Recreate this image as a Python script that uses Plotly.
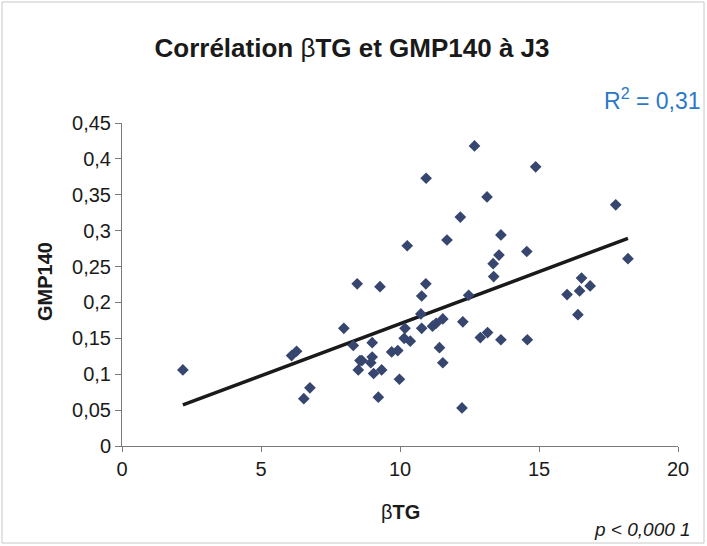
import plotly.graph_objects as go

# --- data ---
btg = [2.19, 6.10, 6.28, 6.76, 6.54, 7.98, 8.32, 8.46, 8.56, 8.63,
       8.50, 9.00, 9.00, 8.95, 9.05, 9.34, 9.22, 9.28, 9.70, 9.92,
       9.98, 10.18, 10.15, 10.37, 10.26, 10.75, 10.78, 10.78, 10.93, 10.94,
       11.17, 11.30, 11.54, 11.42, 11.54, 11.69, 12.17, 12.26, 12.23, 12.47,
       12.68, 12.89, 13.15, 13.13, 13.37, 13.35, 13.56, 13.63, 13.63, 14.56,
       14.58, 14.88, 16.01, 16.46, 16.53, 16.40, 16.84, 17.76, 18.20]
gmp140 = [0.106, 0.126, 0.132, 0.081, 0.066, 0.164, 0.140, 0.226, 0.119, 0.119,
          0.106, 0.144, 0.124, 0.116, 0.101, 0.106, 0.068, 0.222, 0.131, 0.133,
          0.093, 0.164, 0.150, 0.146, 0.279, 0.184, 0.164, 0.209, 0.226, 0.373,
          0.167, 0.171, 0.177, 0.137, 0.116, 0.287, 0.319, 0.173, 0.053, 0.210,
          0.418, 0.151, 0.158, 0.347, 0.236, 0.254, 0.266, 0.294, 0.148, 0.271,
          0.148, 0.389, 0.211, 0.216, 0.234, 0.183, 0.223, 0.336, 0.261]

trend_slope = 0.0145
trend_intercept = 0.0254

x_tick_vals = [0, 5, 10, 15, 20]
x_tick_labels = ["0", "5", "10", "15", "20"]
y_tick_vals = [0, 0.05, 0.1, 0.15, 0.2, 0.25, 0.3, 0.35, 0.4, 0.45]
y_tick_labels = ["0", "0,05", "0,1", "0,15", "0,2", "0,25", "0,3", "0,35", "0,4", "0,45"]

title_text = "<b>Corrélation </b>β<b>TG et GMP140 à J3</b>"
x_title = "β<b>TG</b>"
y_title = "<b>GMP140</b>"
r2_text = "R<sup>2</sup> = 0,31"
p_text = "<i>p < 0,000 1</i>"

FONT = "Arial, 'Liberation Sans', sans-serif"
W, H = 707, 546
ML, MR, MT, MB = 122, 29, 123, 100
PW, PH = W - ML - MR, H - MT - MB


def px_x(px):
    return (px - ML) / PW


def px_y(py):
    return (H - MB - py) / PH


x_min, x_max = min(btg), max(btg)
trend_x = [x_min, x_max]
trend_y = [trend_intercept + trend_slope * v for v in trend_x]

fig = go.Figure()
fig.add_trace(go.Scatter(
    x=trend_x, y=trend_y, mode="lines",
    line=dict(color="#1a1a1a", width=3.5),
    hoverinfo="skip", showlegend=False))
fig.add_trace(go.Scatter(
    x=btg, y=gmp140, mode="markers",
    marker=dict(symbol="diamond", size=9, color="#36466f",
                line=dict(width=0)),
    showlegend=False))

fig.update_layout(
    width=W, height=H,
    margin=dict(l=ML, r=MR, t=MT, b=MB),
    paper_bgcolor="white", plot_bgcolor="white",
    font=dict(family=FONT, color="#1a1a1a"),
    title=dict(text=title_text, x=(352) / W, xanchor="center", y=1 - 48 / H, yanchor="middle",
               font=dict(size=26, family=FONT, color="#1a1a1a")),
    showlegend=False,
)
fig.update_xaxes(
    range=[0, 20], tickvals=x_tick_vals, ticktext=x_tick_labels,
    showgrid=False, zeroline=False, showline=True, linecolor="#7a7a7a", linewidth=1,
    ticks="outside", ticklen=5, tickcolor="#7a7a7a",
    tickfont=dict(size=20, family=FONT, color="#1a1a1a"),
)
fig.update_yaxes(
    range=[0, 0.45], tickvals=y_tick_vals, ticktext=y_tick_labels,
    showgrid=False, zeroline=False, showline=True, linecolor="#7a7a7a", linewidth=1,
    ticks="outside", ticklen=6, tickcolor="#7a7a7a",
    tickfont=dict(size=20, family=FONT, color="#1a1a1a"),
)
fig.add_annotation(
    text=y_title, xref="paper", yref="paper", x=px_x(45), y=px_y(282),
    xanchor="center", yanchor="middle", textangle=-90, showarrow=False,
    font=dict(size=20, family=FONT, color="#1a1a1a"))
fig.add_annotation(
    text=x_title, xref="paper", yref="paper", x=px_x(400), y=px_y(512),
    xanchor="center", yanchor="middle", showarrow=False,
    font=dict(size=20, family=FONT, color="#1a1a1a"))
fig.add_annotation(
    text=r2_text, xref="paper", yref="paper", x=px_x(703), y=px_y(99),
    xanchor="right", yanchor="middle", showarrow=False,
    font=dict(size=23, family=FONT, color="#2a78c6"))
fig.add_annotation(
    text=p_text, xref="paper", yref="paper", x=px_x(693), y=px_y(529),
    xanchor="right", yanchor="middle", showarrow=False,
    font=dict(size=19, family=FONT, color="#1a1a1a"))
fig.add_shape(type="rect", xref="paper", yref="paper",
              x0=px_x(2), x1=px_x(704), y0=px_y(543), y1=px_y(2),
              line=dict(color="#c8c8c8", width=1))

fig.write_html("out.html", config={"displayModeBar": False})

# remove the default page margin so the figure sits at the window origin
with open("out.html", "r", encoding="utf-8") as f:
    html = f.read()
html = html.replace("<head>", "<head><style>html,body{margin:0;padding:0;overflow:hidden;}</style>", 1)
with open("out.html", "w", encoding="utf-8") as f:
    f.write(html)
